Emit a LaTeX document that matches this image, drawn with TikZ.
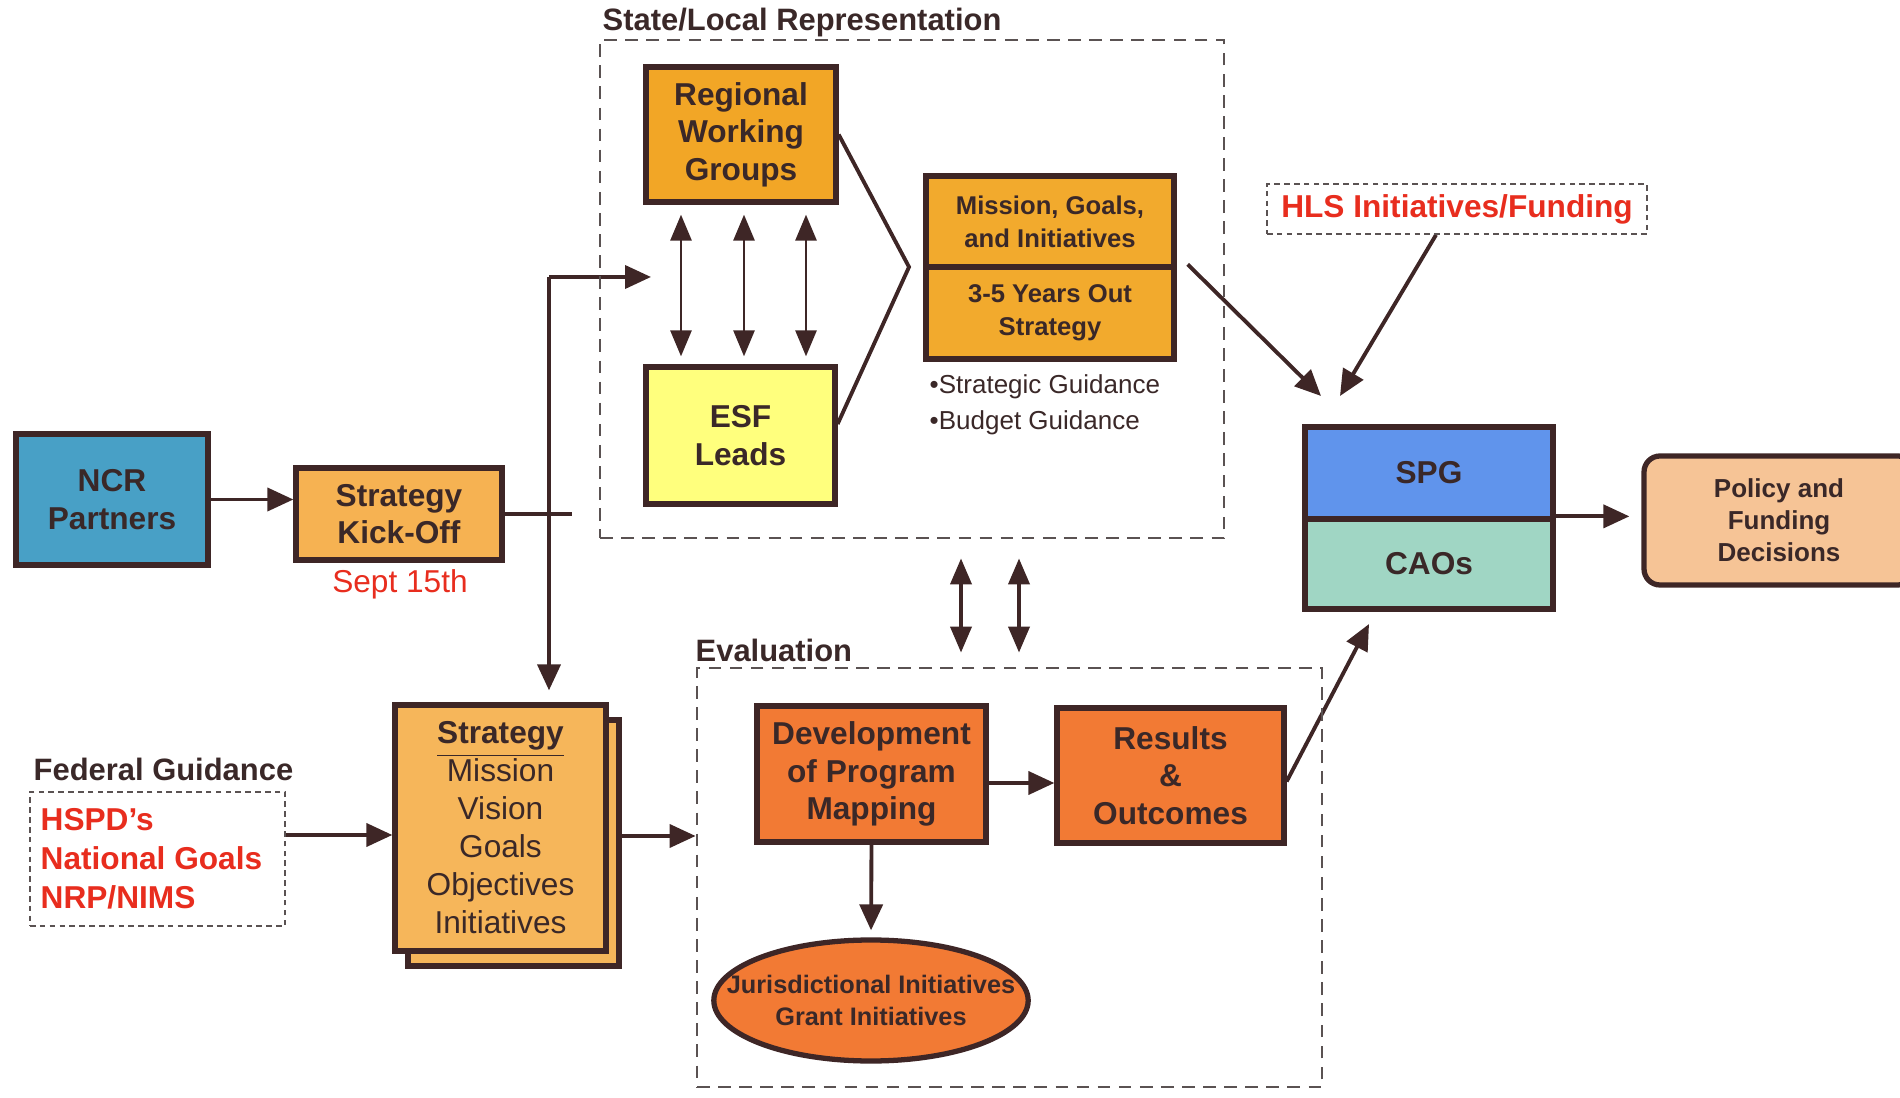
\documentclass[tikz,border=0pt]{standalone}
\usepackage{fontspec}
\setmainfont{Liberation Sans}
\usepackage{tikz}
\usetikzlibrary{shapes.geometric,arrows.meta}
\definecolor{edge}{RGB}{62,38,38}
\definecolor{ink}{RGB}{58,40,40}
\definecolor{dashgray}{RGB}{90,82,82}
\definecolor{hotred}{RGB}{232,45,30}
\definecolor{ncrblue}{RGB}{72,160,198}
\definecolor{kickorange}{RGB}{246,178,82}
\definecolor{rwgorange}{RGB}{242,166,38}
\definecolor{esfyellow}{RGB}{255,255,125}
\definecolor{misorange}{RGB}{242,170,45}
\definecolor{spgblue}{RGB}{96,148,236}
\definecolor{caogreen}{RGB}{160,214,196}
\definecolor{polpeach}{RGB}{246,196,150}
\definecolor{evalorange}{RGB}{242,122,52}
\definecolor{stratorange}{RGB}{246,182,90}
\pgfdeclarelayer{edgelayer}
\pgfdeclarelayer{nodelayer}
\pgfsetlayers{edgelayer,nodelayer,main}
\tikzstyle{none}=[inner sep=0pt]
\tikzstyle{box}=[rectangle,draw=edge,line width=1.5pt,text=ink,align=center,inner sep=0pt,font=\fontsize{9}{10.7}\selectfont\bfseries]
\tikzstyle{smallbox}=[box,font=\fontsize{7.3}{9.4}\selectfont\bfseries]
\tikzstyle{section}=[inner sep=0pt,text=ink,font=\fontsize{8.8}{10}\selectfont\bfseries]
\tikzstyle{redtext}=[inner sep=0pt,text=hotred,font=\fontsize{9}{11.1}\selectfont\bfseries]
\tikzstyle{region}=[rectangle,draw=dashgray,line width=0.8pt,dash pattern=on 3.6pt off 2.4pt,inner sep=0pt]
\tikzstyle{finebox}=[rectangle,draw=dashgray,line width=0.5pt,dash pattern=on 1.6pt off 1.2pt,inner sep=0pt]
\tikzstyle{inarrow}=[-{Triangle[length=2.6mm,width=2.3mm]},draw=edge,line width=1.1pt]
\tikzstyle{pairarrow}=[{Triangle[length=2.6mm,width=2.1mm]}-{Triangle[length=2.6mm,width=2.1mm]},draw=edge,line width=0.8pt]
\tikzstyle{simple}=[-,draw=edge,line width=1.1pt]
\begin{document}
\begin{tikzpicture}
	\useasboundingbox (0,0) rectangle (19,10.97);
	\begin{pgfonlayer}{nodelayer}
		\node [style=box, fill=ncrblue, minimum width=1.92cm, minimum height=1.31cm] (ncr) at (1.12, 5.975) {NCR\\Partners};
		\node [style=box, fill=kickorange, minimum width=2.06cm, minimum height=0.92cm] (kick) at (3.99, 5.83) {Strategy\\Kick-Off};
		\node [style=none, text=hotred, font=\fontsize{9}{10}\selectfont] (sept) at (4.00, 5.13) {Sept 15th};
		\node [style=region, minimum width=6.24cm, minimum height=4.98cm] (statebox) at (9.12, 8.08) {};
		\node [style=section, anchor=base west] (statelbl) at (6.02, 10.66) {State/Local Representation};
		\node [style=box, fill=rwgorange, minimum width=1.90cm, minimum height=1.35cm] (rwg) at (7.41, 9.625) {Regional\\Working\\Groups};
		\node [style=box, fill=esfyellow, minimum width=1.89cm, minimum height=1.37cm] (esf) at (7.405, 6.615) {ESF\\Leads};
		\node [style=smallbox, fill=misorange, minimum width=2.48cm, minimum height=0.91cm] (mgi) at (10.50, 8.755) {Mission, Goals,\\and Initiatives};
		\node [style=smallbox, fill=misorange, minimum width=2.48cm, minimum height=0.92cm] (yrs) at (10.50, 7.84) {3-5 Years Out\\Strategy};
		\node [style=none, anchor=west, align=left, text=ink, font=\fontsize{7.4}{10.2}\selectfont] (guide) at (9.29, 6.92) {•Strategic Guidance\\•Budget Guidance};
		\node [style=finebox, minimum width=3.80cm, minimum height=0.50cm, text=hotred, font=\fontsize{9}{10}\selectfont\bfseries] (hls) at (14.57, 8.88) {HLS Initiatives/Funding};
		\node [style=box, fill=spgblue, minimum width=2.48cm, minimum height=0.92cm] (spg) at (14.29, 6.24) {SPG};
		\node [style=box, fill=caogreen, minimum width=2.48cm, minimum height=0.90cm] (cao) at (14.29, 5.33) {CAOs};
		\node [style=smallbox, fill=polpeach, rounded corners=0.16cm, minimum width=2.70cm, minimum height=1.29cm, font=\fontsize{7.4}{9.1}\selectfont\bfseries] (policy) at (17.79, 5.765) {Policy and\\Funding\\Decisions};
		\node [style=section, anchor=base west] (fedlbl) at (0.33, 3.16) {Federal Guidance};
		\node [style=finebox, minimum width=2.55cm, minimum height=1.34cm] (fedbox) at (1.575, 2.38) {};
		\node [style=redtext, anchor=west, align=left] (fedlist) at (0.40, 2.38) {HSPD’s\\National Goals\\NRP/NIMS};
		\node [style=box, fill=stratorange, minimum width=2.11cm, minimum height=2.46cm] (stratb) at (5.135, 2.54) {};
		\node [style=box, fill=stratorange, minimum width=2.11cm, minimum height=2.46cm, font=\fontsize{9}{10.8}\selectfont] (strat) at (5.005, 2.69) {{\bfseries\underline{Strategy}}\\Mission\\Vision\\Goals\\Objectives\\Initiatives};
		\node [style=region, minimum width=6.25cm, minimum height=4.19cm] (evalbox) at (10.095, 2.195) {};
		\node [style=section, anchor=base west] (evallbl) at (6.95, 4.35) {Evaluation};
		\node [style=box, fill=evalorange, minimum width=2.29cm, minimum height=1.36cm] (dev) at (8.715, 3.23) {Development\\of Program\\Mapping};
		\node [style=box, fill=evalorange, minimum width=2.27cm, minimum height=1.35cm] (res) at (11.705, 3.215) {Results\\\&\\Outcomes};
		\node [style=smallbox, ellipse, fill=evalorange, inner xsep=-0.33cm, minimum height=1.21cm, font=\fontsize{7.2}{9}\selectfont\bfseries] (ell) at (8.71, 0.965) {Jurisdictional Initiatives\\Grant Initiatives};
		\coordinate (split) at (5.49, 8.20);
		\coordinate (stin) at (6.51, 8.20);
		\coordinate (vtx) at (9.09, 8.30);
		\coordinate (spgin1) at (13.21, 7.01);
		\coordinate (spgin2) at (13.40, 7.01);
		\coordinate (caoin) at (13.69, 4.73);
	\end{pgfonlayer}
	\begin{pgfonlayer}{edgelayer}
		\draw [style=inarrow] (ncr.east) to (ncr.east -| kick.west);
		\draw [style=simple] (kick.east) to ([xshift=2.3mm]kick.east -| split);
		\draw [style=inarrow] (split) to (stin);
		\draw [style=inarrow, shorten >=1.2mm] (split) to (split |- strat.north);
		\draw [style=pairarrow, shorten <=1mm, shorten >=0.8mm] ([xshift=-6mm]rwg.south) to ([xshift=-6mm]rwg.south |- esf.north);
		\draw [style=pairarrow, shorten <=1mm, shorten >=0.8mm] ([xshift=0.3mm]rwg.south) to ([xshift=0.3mm]rwg.south |- esf.north);
		\draw [style=pairarrow, shorten <=1mm, shorten >=0.8mm] ([xshift=6.5mm]rwg.south) to ([xshift=6.5mm]rwg.south |- esf.north);
		\draw [style=simple] (rwg.east) to (vtx) to ([yshift=1.15mm]esf.east);
		\draw [style=inarrow] ([xshift=1.1mm]yrs.north east) to (spgin1);
		\draw [style=inarrow] ([xshift=-2.1mm]hls.south) to (spgin2);
		\draw [style=inarrow, shorten >=1.2mm] (cao.north east) to (cao.north east -| policy.west);
		\draw [style=pairarrow, line width=1.1pt, shorten <=1.9mm, shorten >=1.4mm] ([xshift=4.9mm]statebox.south) to ([xshift=4.9mm]statebox.south |- evalbox.north);
		\draw [style=pairarrow, line width=1.1pt, shorten <=1.9mm, shorten >=1.4mm] ([xshift=10.7mm]statebox.south) to ([xshift=10.7mm]statebox.south |- evalbox.north);
		\draw [style=inarrow] ([yshift=-0.9mm]dev.east) to ([yshift=-0.9mm]dev.east -| res.west);
		\draw [style=inarrow, shorten >=0.7mm] (dev.south) to (ell.north);
		\draw [style=inarrow] ([yshift=-0.6mm]res.east) to (caoin);
		\draw [style=inarrow] ([yshift=0.7mm]stratb.east) to ([yshift=0.7mm]stratb.east -| evalbox.west);
		\draw [style=inarrow] ([yshift=2.4mm]fedbox.east) to ([yshift=2.4mm]fedbox.east -| strat.west);

	\end{pgfonlayer}
\end{tikzpicture}
\end{document}
